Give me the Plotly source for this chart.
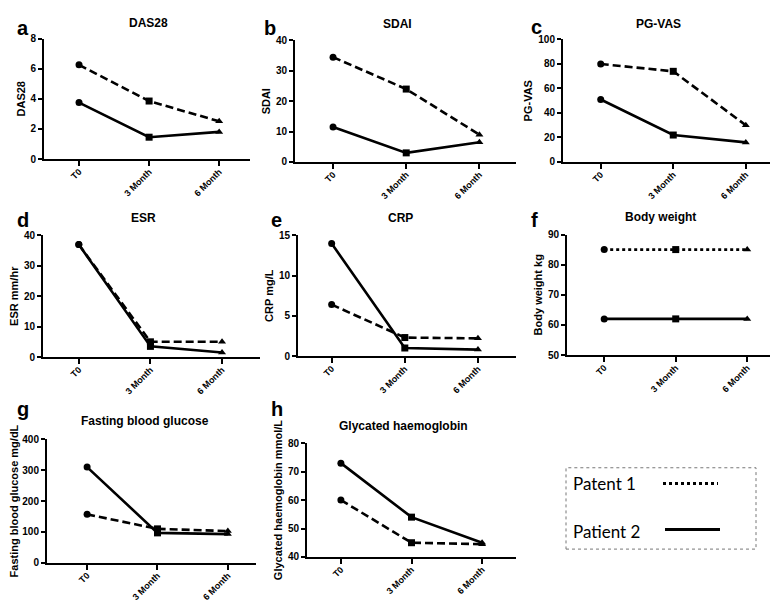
import plotly.graph_objects as go

# ---------------- data ----------------
categories = ["T0", "3 Month", "6 Month"]
marker_symbols = ["circle", "square", "triangle-up"]

das28_p1 = [6.25, 3.85, 2.5]
das28_p2 = [3.75, 1.45, 1.8]
sdai_p1 = [34.5, 24.0, 9.0]
sdai_p2 = [11.5, 3.0, 6.5]
pgvas_p1 = [80, 74, 30]
pgvas_p2 = [51, 22, 16]
esr_p1 = [37, 5, 5]
esr_p2 = [37, 3.5, 1.5]
crp_p1 = [6.4, 2.3, 2.2]
crp_p2 = [14.0, 1.0, 0.8]
weight_p1 = [85, 85, 85]
weight_p2 = [62, 62, 62]
fbg_p1 = [157, 110, 103]
fbg_p2 = [310, 97, 93]
hba_p1 = [60, 45, 44.5]
hba_p2 = [73, 54, 45]

panel_letters = ["a", "b", "c", "d", "e", "f", "g", "h"]
panel_titles = ["DAS28", "SDAI", "PG-VAS", "ESR", "CRP", "Body weight",
                "Fasting blood glucose", "Glycated haemoglobin"]
y_titles = ["DAS28", "SDAI", "PG-VAS", "ESR mm/hr", "CRP mg/L", "Body weight kg",
            "Fasting blood glucose mg/dL", "Glycated haemoglobin mmol/L"]
series_p1 = [das28_p1, sdai_p1, pgvas_p1, esr_p1, crp_p1, weight_p1, fbg_p1, hba_p1]
series_p2 = [das28_p2, sdai_p2, pgvas_p2, esr_p2, crp_p2, weight_p2, fbg_p2, hba_p2]
y_ranges = [(0, 8, 2), (0, 40, 10), (0, 100, 20), (0, 40, 10), (0, 15, 5),
            (50, 90, 10), (0, 400, 100), (40, 80, 10)]
legend_labels = ["Patent 1", "Patient 2"]

# ---------------- layout (pixel geometry) ----------------
W, H = 778, 601
# x_left, x_right, y_bottom, y_top (px), x-range left/right in category units
geo = [
    (36, 242, 148, 25, -0.5, 2.44),
    (287, 508, 151, 27, -0.52, 2.5),
    (555, 769, 151, 26, -0.52, 2.43),
    (35, 252, 350, 226, -0.5, 2.53),
    (290, 508, 349, 226, -0.46, 2.52),
    (559, 775, 348, 225, -0.52, 2.5),
    (39, 248, 560, 434, -0.57, 2.4),
    (299, 508, 554, 438, -0.48, 2.48),
]
title_pos = [(140, 9), (389, 10), (650, 10), (135, 208), (392, 208), (652, 207),
             (137, 415), (395, 420)]
letter_pos = [(7, 14), (254, 14), (521, 13), (7, 210), (261, 210), (521, 210),
              (7, 403), (261, 403)]

FONT = "Liberation Sans, Arial, sans-serif"

fig = go.Figure()
annotations = []
shapes = []

def px_x(x):
    return x / W

def px_y(y):
    return 1 - y / H

for i in range(8):
    xl, xr, yb, yt, r0, r1 = geo[i]
    sfx = "" if i == 0 else str(i + 1)
    xa, ya = "x" + sfx, "y" + sfx
    p1_dash = "3px,3px" if i == 5 else "8px,4px"
    for vals, dash in ((series_p1[i], p1_dash), (series_p2[i], "solid")):
        fig.add_trace(go.Scatter(
            x=categories, y=vals, xaxis=xa, yaxis=ya, mode="lines+markers",
            line=dict(color="black", width=2.6, dash=dash),
            marker=dict(symbol=marker_symbols, size=7, color="black"),
            showlegend=False, cliponaxis=False,
        ))
    lo, hi, dt = y_ranges[i]
    fig.layout["xaxis" + sfx] = dict(
        domain=[px_x(xl), px_x(xr)], anchor=ya, type="category",
        range=[r0, r1], showline=True, linecolor="black", linewidth=2,
        ticks="outside", ticklen=5, tickwidth=1.5, tickcolor="black",
        tickangle=-45, showgrid=False, zeroline=False, ticklabelstandoff=-3,
        tickfont=dict(family=FONT, size=9, color="black", weight="bold"),
        fixedrange=True,
    )
    fig.layout["yaxis" + sfx] = dict(
        domain=[px_y(yb), px_y(yt)], anchor=xa, range=[lo, hi],
        tickmode="linear", tick0=lo, dtick=dt,
        showline=True, linecolor="black", linewidth=2,
        ticks="outside", ticklen=4, tickwidth=1.5, tickcolor="black",
        showgrid=False, zeroline=False,
        tickfont=dict(family=FONT, size=10, color="black", weight="bold"),
        title=dict(text=y_titles[i], standoff=3,
                   font=dict(family=FONT, size=11, color="black", weight="bold")),
        fixedrange=True,
    )
    tx, ty = title_pos[i]
    annotations.append(dict(
        x=px_x(tx), y=px_y(ty), xref="paper", yref="paper", text=panel_titles[i],
        showarrow=False, xanchor="center", yanchor="middle",
        font=dict(family=FONT, size=12, color="black", weight="bold")))
    lx, ly = letter_pos[i]
    annotations.append(dict(
        x=px_x(lx), y=px_y(ly), xref="paper", yref="paper", text=panel_letters[i],
        showarrow=False, xanchor="left", yanchor="middle",
        font=dict(family=FONT, size=20, color="black", weight="bold")))

# legend box
shapes.append(dict(type="rect", xref="paper", yref="paper",
                   x0=px_x(558), x1=px_x(748), y0=px_y(546), y1=px_y(463),
                   line=dict(color="#777777", width=1, dash="dot")))
shapes.append(dict(type="line", xref="paper", yref="paper",
                   x0=px_x(655), x1=px_x(710), y0=px_y(479), y1=px_y(479),
                   line=dict(color="black", width=3, dash="3px,3px")))
shapes.append(dict(type="line", xref="paper", yref="paper",
                   x0=px_x(657), x1=px_x(712), y0=px_y(526), y1=px_y(526),
                   line=dict(color="black", width=3)))
for lab, yy in zip(legend_labels, (479, 528)):
    annotations.append(dict(
        x=px_x(563), y=px_y(yy), xref="paper", yref="paper", text=lab,
        showarrow=False, xanchor="left", yanchor="middle",
        font=dict(family="Lato, Liberation Sans, sans-serif", size=17, color="black")))

fig.update_layout(
    width=W, height=H, margin=dict(l=0, r=0, t=0, b=0),
    paper_bgcolor="white", plot_bgcolor="white",
    annotations=annotations, shapes=shapes, showlegend=False,
    font=dict(family=FONT, color="black"),
)

fig.write_html("out.html")
